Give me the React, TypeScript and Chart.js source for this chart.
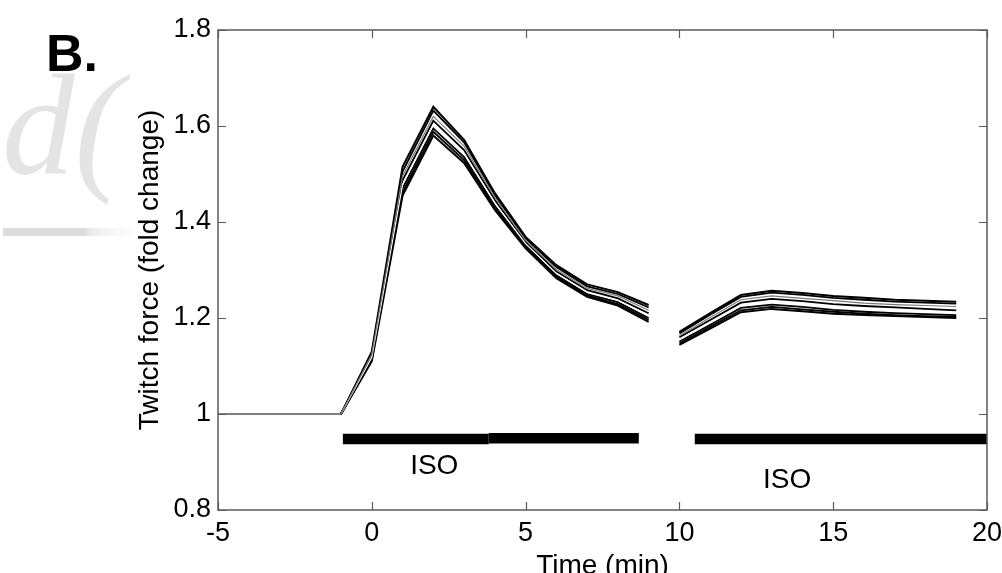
import React, { useEffect, useRef } from "react";
import { Chart, registerables } from "chart.js";

Chart.register(...registerables);

// ---- data ----
const timesPre = [-1, 0, 1, 2, 3, 4, 5, 6, 7, 8, 9];
const timesPost = [10, 11, 12, 13, 14, 15, 16, 17, 18, 19];
const baselineTimes = [-5, -1];
const baselineValues = [1.0, 1.0];

// each trace: 11 values for timesPre then 10 for timesPost
const trace1 = [1.0, 1.13, 1.515, 1.64, 1.571, 1.46, 1.369, 1.31, 1.27, 1.254, 1.227, 1.171, 1.21, 1.248, 1.257, 1.252, 1.246, 1.242, 1.238, 1.236, 1.234];
const trace2 = [1.0, 1.127, 1.505, 1.632, 1.566, 1.456, 1.366, 1.306, 1.266, 1.25, 1.222, 1.168, 1.207, 1.244, 1.253, 1.248, 1.242, 1.238, 1.234, 1.232, 1.23];
const trace3 = [1.0, 1.124, 1.496, 1.62, 1.558, 1.451, 1.362, 1.301, 1.262, 1.246, 1.216, 1.163, 1.201, 1.238, 1.246, 1.241, 1.236, 1.231, 1.228, 1.226, 1.224];
const trace4 = [1.0, 1.121, 1.487, 1.611, 1.55, 1.446, 1.358, 1.297, 1.258, 1.241, 1.21, 1.16, 1.196, 1.232, 1.24, 1.235, 1.229, 1.225, 1.222, 1.219, 1.216];
const trace5 = [1.0, 1.118, 1.478, 1.603, 1.543, 1.44, 1.355, 1.293, 1.254, 1.237, 1.205, 1.155, 1.19, 1.226, 1.233, 1.228, 1.222, 1.218, 1.215, 1.213, 1.211];
const trace6 = [1.0, 1.115, 1.47, 1.595, 1.535, 1.434, 1.351, 1.289, 1.25, 1.233, 1.2, 1.151, 1.186, 1.221, 1.228, 1.223, 1.217, 1.213, 1.21, 1.208, 1.206];
const trace7 = [1.0, 1.113, 1.462, 1.588, 1.529, 1.429, 1.348, 1.286, 1.247, 1.229, 1.196, 1.147, 1.182, 1.216, 1.223, 1.218, 1.213, 1.209, 1.206, 1.204, 1.203];
const trace8 = [1.0, 1.11, 1.455, 1.58, 1.523, 1.425, 1.345, 1.283, 1.244, 1.226, 1.192, 1.144, 1.178, 1.212, 1.219, 1.214, 1.209, 1.206, 1.204, 1.202, 1.2];
const traces = [trace1, trace2, trace3, trace4, trace5, trace6, trace7, trace8];
const traceColors = ["#000", "#000", "#7a7a7a", "#000", "#ffffff", "#000", "#000", "#000"];
const traceWidths = [2, 1.8, 1.2, 1.8, 1.2, 1.8, 1.8, 2];

// ISO application bars: [start, end, level]
const isoBars = [
  [-0.94, 3.8, 0.948],
  [3.8, 8.68, 0.9495],
  [10.5, 20, 0.948],
];
const isoLabels = [
  { text: "ISO", x: 2.03, y: 0.875 },
  { text: "ISO", x: 13.5, y: 0.846 },
];

const xTicks = [-5, 0, 5, 10, 15, 20];
const yTicks = [0.8, 1.0, 1.2, 1.4, 1.6, 1.8];
const xTitle = "Time (min)";
const yTitle = "Twitch force (fold change)";
const panelLabel = "B.";

const FONT = "'Liberation Sans', Arial, Helvetica, sans-serif";

function tracePoints(vals: number[]) {
  const pts: { x: number; y: number | null }[] = [];
  timesPre.forEach((t, i) => pts.push({ x: t, y: vals[i] }));
  pts.push({ x: 9.5, y: null });
  timesPost.forEach((t, i) => pts.push({ x: t, y: vals[timesPre.length + i] }));
  return pts;
}

const decorPlugin = {
  id: "decor",
  beforeDraw(chart: any) {
    const ctx = chart.ctx;
    ctx.save();
    // faint watermark from the source page
    ctx.fillStyle = "#e4e4e4";
    ctx.font = "italic 145px 'Liberation Serif', serif";
    ctx.textBaseline = "alphabetic";
    ctx.textAlign = "left";
    ctx.fillText("d(", 2, 174);
    const g = ctx.createLinearGradient(3, 0, 135, 0);
    g.addColorStop(0, "#dcdcdc");
    g.addColorStop(0.62, "#dcdcdc");
    g.addColorStop(0.66, "#ececec");
    g.addColorStop(1, "#ffffff");
    ctx.fillStyle = g;
    ctx.fillRect(3, 228, 132, 8);
    // panel label
    ctx.fillStyle = "#000";
    ctx.font = `bold 52px ${FONT}`;
    ctx.fillText(panelLabel, 46, 71);
    ctx.restore();
  },
  afterDraw(chart: any) {
    const ctx = chart.ctx;
    const { left, right, top, bottom } = chart.chartArea;
    const xs = chart.scales.x;
    const ys = chart.scales.y;
    ctx.save();
    // frame
    ctx.strokeStyle = "#5a5a5a";
    ctx.lineWidth = 1.5;
    ctx.strokeRect(left, top, right - left, bottom - top);
    // inward ticks on all sides
    const tl = 8;
    ctx.beginPath();
    xTicks.forEach((v) => {
      const px = Math.round(xs.getPixelForValue(v)) + 0.5;
      ctx.moveTo(px, bottom);
      ctx.lineTo(px, bottom - tl);
      ctx.moveTo(px, top);
      ctx.lineTo(px, top + tl);
    });
    yTicks.forEach((v) => {
      const py = Math.round(ys.getPixelForValue(v)) + 0.5;
      ctx.moveTo(left, py);
      ctx.lineTo(left + tl, py);
      ctx.moveTo(right, py);
      ctx.lineTo(right - tl, py);
    });
    ctx.lineWidth = 1.2;
    ctx.stroke();
    // ISO labels
    ctx.fillStyle = "#000";
    ctx.font = `28px ${FONT}`;
    ctx.textAlign = "center";
    ctx.textBaseline = "alphabetic";
    isoLabels.forEach((l) => {
      ctx.fillText(l.text, xs.getPixelForValue(l.x), ys.getPixelForValue(l.y));
    });
    // axis titles
    ctx.fillText(xTitle, (left + right) / 2, 574);
    ctx.translate(158, (top + bottom) / 2);
    ctx.rotate(-Math.PI / 2);
    ctx.fillText(yTitle, 0, 0);
    ctx.restore();
  },
};

export default function App() {
  const ref = useRef<HTMLCanvasElement | null>(null);
  useEffect(() => {
    if (!ref.current) return;
    const datasets: any[] = [];
    datasets.push({
      data: baselineTimes.map((t, i) => ({ x: t, y: baselineValues[i] })),
      borderColor: "#555",
      borderWidth: 1.5,
      pointRadius: 0,
    });
    traces.forEach((tr, i) => {
      datasets.push({
        data: tracePoints(tr),
        borderColor: traceColors[i],
        borderWidth: traceWidths[i],
        pointRadius: 0,
        spanGaps: false,
        order: traceColors[i] === "#000" ? 2 : 1,
      });
    });
    isoBars.forEach(([a, b, lvl]) => {
      datasets.push({
        data: [
          { x: a, y: lvl },
          { x: b, y: lvl },
        ],
        borderColor: "#000",
        borderWidth: 10.5,
        borderCapStyle: "butt",
        pointRadius: 0,
      });
    });
    const chart = new Chart(ref.current, {
      type: "line",
      data: { datasets },
      plugins: [decorPlugin],
      options: {
        animation: false,
        responsive: false,
        maintainAspectRatio: false,
        events: [],
        layout: { padding: { top: 30, right: 15, left: 0, bottom: 0 } },
        plugins: { legend: { display: false }, tooltip: { enabled: false } },
        elements: { line: { tension: 0, borderJoinStyle: "miter" } },
        scales: {
          x: {
            type: "linear",
            min: -5,
            max: 20,
            border: { display: false },
            grid: { display: false, drawTicks: false },
            afterBuildTicks: (s: any) => {
              s.ticks = xTicks.map((v) => ({ value: v }));
            },
            ticks: {
              padding: 7,
              maxRotation: 0,
              autoSkip: false,
              color: "#000",
              font: { family: FONT, size: 27 },
              callback: (v: any) => String(v),
            },
            afterFit: (s: any) => {
              s.height = 63;
              s.paddingLeft = 0;
              s.paddingRight = 0;
            },
          },
          y: {
            type: "linear",
            min: 0.8,
            max: 1.8,
            border: { display: false },
            grid: { display: false, drawTicks: false },
            afterBuildTicks: (s: any) => {
              s.ticks = yTicks.map((v) => ({ value: v }));
            },
            ticks: {
              padding: 7,
              autoSkip: false,
              color: "#000",
              font: { family: FONT, size: 27 },
              callback: (v: any) => String(Number(Number(v).toFixed(1))),
            },
            afterFit: (s: any) => {
              s.width = 218;
              s.paddingTop = 0;
              s.paddingBottom = 0;
            },
          },
        },
      } as any,
    });
    return () => chart.destroy();
  }, []);
  return (
    <div style={{ position: "absolute", left: 0, top: 0, width: 1002, height: 573, background: "#fff" }}>
      <canvas ref={ref} width={1002} height={573} />
    </div>
  );
}
